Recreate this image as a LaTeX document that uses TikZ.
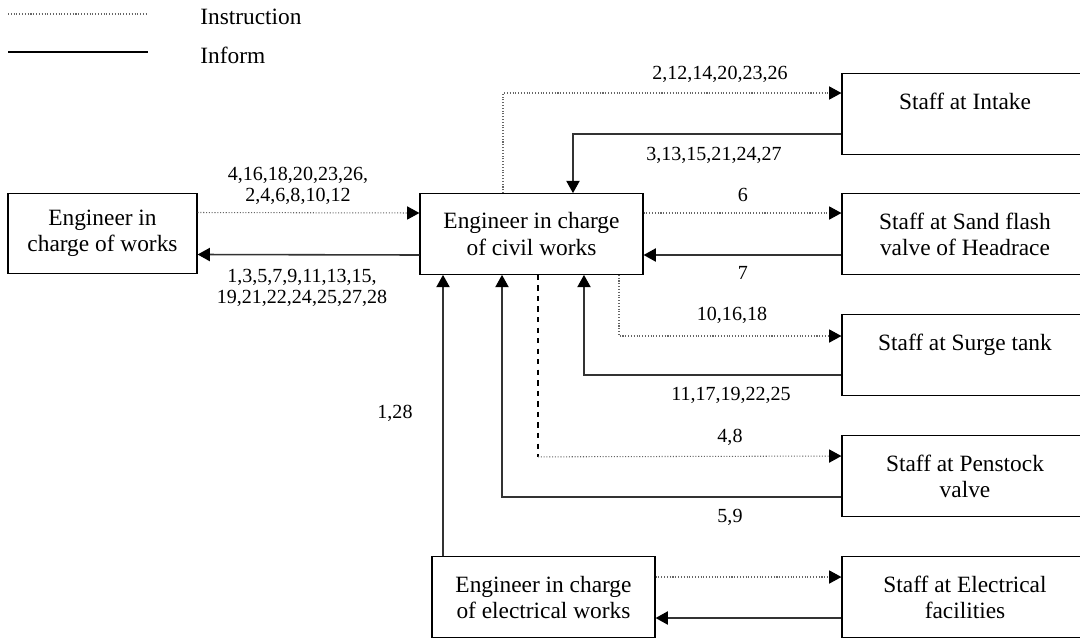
\documentclass[tikz,border=0pt]{standalone}
\usepackage{fontspec}
\setmainfont{Liberation Serif}
\usetikzlibrary{arrows.meta}
\newcommand\boxfont{\fontsize{13.3pt}{14.8pt}\selectfont}
\newcommand\numfont{\fontsize{11.4pt}{12pt}\selectfont}
\tikzset{
  box/.style={draw, line width=0.7pt, align=center, inner sep=0pt, minimum height=1.61cm, font=\boxfont},
  num/.style={align=center, inner sep=0pt, font=\numfont},
  legendtext/.style={anchor=west, inner sep=0pt, font=\boxfont},
  tip/.style={-{Triangle[length=7pt,width=7.5pt,color=black]}},
  instr/.style={tip, densely dotted, black!60, line width=0.6pt},
  inform/.style={tip, black!80, line width=0.9pt},
}
\begin{document}
\begin{tikzpicture}[x=0.02cm,y=-0.02cm]
\useasboundingbox (0,0) rectangle (1080,637);
\clip (0,0) rectangle (1080,637);

% legend
\coordinate (ins0) at (8,14);
\coordinate (ins1) at (148,14);
\coordinate (inf0) at (8,52);
\coordinate (inf1) at (148,52);
\draw[densely dotted, black!60, line width=0.6pt] (ins0) -- (ins1);
\draw[black, line width=0.9pt] (inf0) -- (inf1);
\node[legendtext] (insl) at (200,17) {Instruction};
\node[legendtext] (infl) at (200,55) {Inform};

% boxes
\node[box, minimum width=3.78cm] (works) at (102.5,233.5) {Engineer in\\charge of works};
\node[box, minimum width=4.46cm] (civil) at (531.5,234) {Engineer in charge\\of civil works};
\node[box, minimum width=4.46cm] (elec) at (543.5,597) {Engineer in charge\\of electrical works};
\node[box, minimum width=4.92cm] (intake) at (965,114) {Staff at Intake\\\phantom{x}};
\node[box, minimum width=4.92cm] (sand) at (965,234) {Staff at Sand flash\\valve of Headrace};
\node[box, minimum width=4.92cm] (surge) at (965,355) {Staff at Surge tank\\\phantom{x}};
\node[box, minimum width=4.92cm] (pens) at (965,476) {Staff at Penstock\\valve};
\node[box, minimum width=4.92cm] (elecfac) at (965,597) {Staff at Electrical\\facilities};

% works <-> civil
\draw[instr] ([yshift=0.42cm]works.east) -- ([yshift=0.42cm]civil.west);
\draw[inform] ([yshift=-0.42cm]civil.west) -- ([yshift=-0.42cm]works.east);
\node[num] (n1) at (298,186) {4,16,18,20,23,26,\\2,4,6,8,10,12};
\node[num] (n2) at (302,288) {1,3,5,7,9,11,13,15,\\19,21,22,24,25,27,28};

% intake
\draw[instr] ([xshift=-0.57cm]civil.north) |- ([yshift=0.42cm]intake.west);
\draw[inform] ([yshift=-0.4cm]intake.west) -| ([xshift=0.83cm]civil.north);
\node[num] (n3) at (720,74) {2,12,14,20,23,26};
\node[num] (n4) at (714,155) {3,13,15,21,24,27};

% sand flash valve
\draw[instr] ([yshift=0.42cm]civil.east) -- ([yshift=0.42cm]sand.west);
\draw[inform] ([yshift=-0.42cm]sand.west) -- ([yshift=-0.42cm]civil.east);
\node[num] (n5) at (743,195) {6};
\node[num] (n6) at (743,273) {7};

% surge tank
\draw[instr] ([xshift=1.75cm]civil.south) |- ([yshift=0.38cm]surge.west);
\draw[inform] ([yshift=-0.4cm]surge.west) -| ([xshift=1.05cm]civil.south);
\node[num] (n7) at (732,315) {10,16,18};
\node[num] (n8) at (731,395) {11,17,19,22,25};

% penstock valve
\draw[dashed, line width=0.6pt] ([xshift=0.13cm]civil.south) -- ++(0,182) coordinate (pbend);
\draw[instr] (pbend) -- ([yshift=0.4cm]pens.west);
\draw[inform] ([yshift=-0.42cm]pens.west) -| ([xshift=-0.59cm]civil.south);
\node[num] (n9) at (730,437) {4,8};
\node[num] (n10) at (730,517) {5,9};

% electrical
\draw[instr] ([yshift=0.4cm]elec.east) -- ([yshift=0.4cm]elecfac.west);
\draw[inform] ([yshift=-0.42cm]elecfac.west) -- ([yshift=-0.42cm]elec.east);
\draw[inform] ([xshift=-2.01cm]elec.north) -- ([xshift=-1.77cm]civil.south);
\node[num] (n11) at (395,413) {1,28};
\end{tikzpicture}
\end{document}
